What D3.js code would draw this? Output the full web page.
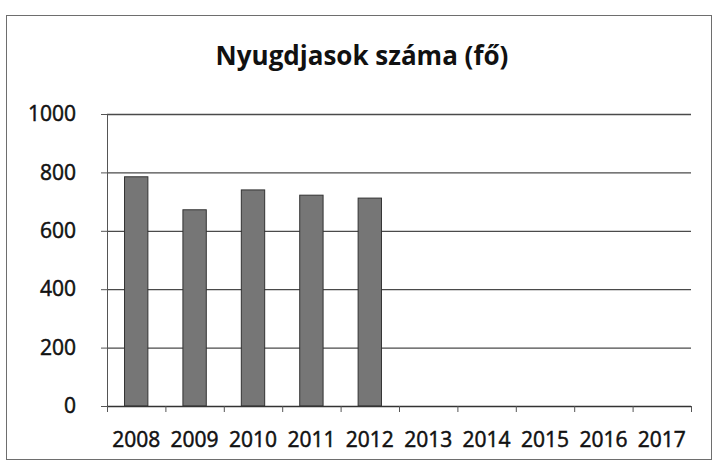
<!DOCTYPE html>
<html>
<head>
<meta charset="utf-8">
<script src="https://cdn.jsdelivr.net/npm/d3@7/dist/d3.min.js"></script>
<style>
  html, body { margin: 0; padding: 0; background: #fff; }
  svg { display: block; }
  text { font-family: "Open Sans", Lato, sans-serif; fill: #111; }
</style>
</head>
<body>
<svg id="chart" width="714" height="470"></svg>
<script>
// Nyugdíjasok száma évente (fő)
const years = ["2008", "2009", "2010", "2011", "2012", "2013", "2014", "2015", "2016", "2017"];
const values = [785, 672, 740, 722, 712, null, null, null, null, null];
const yTicks = [0, 200, 400, 600, 800, 1000];
const title = "Nyugdjasok száma (fő)";

const svg = d3.select("#chart");
const plot = { left: 107, right: 691, top: 114, bottom: 406 };
const font = "'Open Sans', Lato, sans-serif";

// outer chart frame
svg.append("rect")
  .attr("x", 6.5).attr("y", 15.5)
  .attr("width", 705).attr("height", 444)
  .attr("fill", "#fff")
  .attr("stroke", "#6e6e6e")
  .attr("stroke-width", 1);

const x = d3.scaleBand()
  .domain(years)
  .range([plot.left, plot.right])
  .paddingInner(0.6)
  .paddingOuter(0.3);

const y = d3.scaleLinear()
  .domain([0, 1000])
  .range([plot.bottom, plot.top]);

// horizontal gridlines
svg.append("g")
  .selectAll("line")
  .data(yTicks.filter(t => t > 0))
  .join("line")
  .attr("x1", plot.left).attr("x2", plot.right)
  .attr("y1", d => y(d) + 0.5).attr("y2", d => y(d) + 0.5)
  .attr("stroke", "#4a4a4a")
  .attr("stroke-width", 1.3);

// y axis
const yAxis = svg.append("g")
  .attr("transform", `translate(${plot.left},0)`)
  .call(d3.axisLeft(y).tickValues(yTicks).tickFormat(d3.format("d")).tickSize(6).tickPadding(25));
yAxis.select(".domain").attr("stroke", "#555").attr("stroke-width", 1);
yAxis.selectAll(".tick line").attr("stroke", "#555");
yAxis.selectAll(".tick text")
  .style("font-family", font)
  .style("font-size", "21px")
  .style("stroke", "#111")
  .style("stroke-width", "0.5px")
  .attr("fill", "#111");

// bars
svg.append("g")
  .selectAll("rect")
  .data(years.map((yr, i) => ({ yr, v: values[i] })).filter(d => d.v != null))
  .join("rect")
  .attr("x", d => x(d.yr))
  .attr("y", d => y(d.v))
  .attr("width", x.bandwidth())
  .attr("height", d => y(0) - y(d.v))
  .attr("fill", "#767676")
  .attr("stroke", "#333")
  .attr("stroke-width", 1);

// x axis with ticks at category boundaries
const xg = svg.append("g").attr("transform", `translate(0,${plot.bottom})`);
xg.append("line")
  .attr("x1", plot.left).attr("x2", plot.right)
  .attr("y1", 0.5).attr("y2", 0.5)
  .attr("stroke", "#333").attr("stroke-width", 1.3);
const step = x.step();
const bounds = d3.range(years.length + 1).map(i => plot.left + i * step);
xg.selectAll("line.tk")
  .data(bounds)
  .join("line")
  .attr("class", "tk")
  .attr("x1", d => d + 0.5).attr("x2", d => d + 0.5)
  .attr("y1", 0).attr("y2", 6)
  .attr("stroke", "#555");
xg.selectAll("text")
  .data(years)
  .join("text")
  .attr("x", d => x(d) + x.bandwidth() / 2)
  .attr("y", 41)
  .attr("text-anchor", "middle")
  .style("font-size", "21px")
  .style("stroke", "#111")
  .style("stroke-width", "0.5px")
  .text(d => d);

// title
svg.append("text")
  .attr("x", 362)
  .attr("y", 65)
  .attr("text-anchor", "middle")
  .style("font-weight", "bold")
  .style("font-size", "26px")
  .text(title);
</script>
</body>
</html>
